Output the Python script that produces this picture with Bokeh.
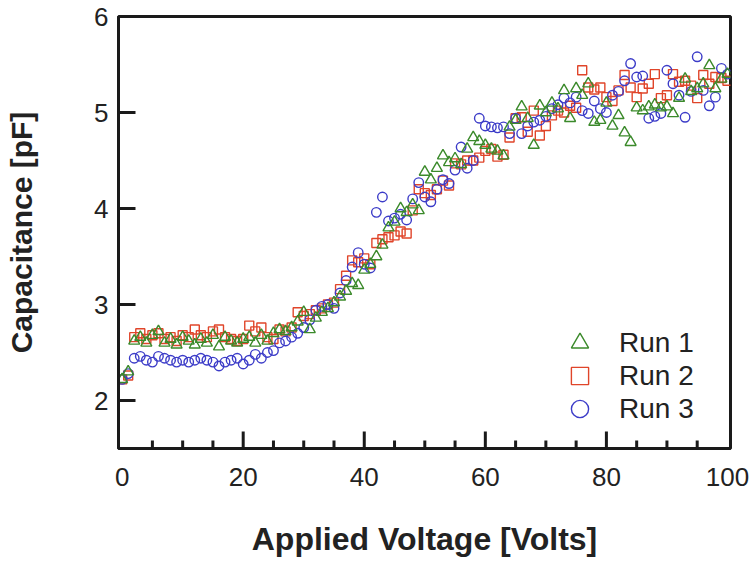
from bokeh.plotting import figure
from bokeh.models import SingleIntervalTicker, Range1d, Legend, LegendItem, ColumnDataSource
from bokeh.embed import file_html
from bokeh.resources import INLINE

voltage = list(range(0, 101))

run1 = [2.22, 2.30, 2.62, 2.66, 2.60, 2.68, 2.72, 2.60, 2.64, 2.58,
        2.66, 2.62, 2.58, 2.64, 2.60, 2.68, 2.56, 2.66, 2.62, 2.60,
        2.64, 2.66, 2.60, 2.68, 2.62, 2.70, 2.74, 2.72, 2.76, 2.82,
        2.92, 2.74, 2.86, 2.92, 2.96, 3.02, 3.08, 3.14, 3.22, 3.20,
        3.36, 3.42, 3.50, 3.62, 3.80, 3.86, 4.00, 3.96, 4.04, 3.98,
        4.38, 4.30, 4.42, 4.55, 4.48, 4.52, 4.46, 4.62, 4.74, 4.70,
        4.66, 4.62, 4.60, 4.55, 4.85, 4.92, 5.06, 4.94, 4.66, 5.07,
        5.00, 5.10, 5.04, 5.23, 4.94, 5.25, 5.18, 5.30, 4.90, 4.92,
        5.10, 4.86, 4.97, 4.79, 4.69, 5.05, 5.02, 5.06, 5.08, 5.05,
        5.06, 4.99, 5.15, 5.35, 5.22, 5.25, 5.30, 5.49, 5.25, 5.35,
        5.40]

run2 = [2.22, 2.26, 2.66, 2.70, 2.64, 2.68, 2.70, 2.64, 2.66, 2.62,
        2.68, 2.66, 2.74, 2.68, 2.66, 2.72, 2.74, 2.66, 2.64, 2.62,
        2.64, 2.78, 2.72, 2.76, 2.66, 2.64, 2.74, 2.72, 2.76, 2.92,
        2.88, 2.90, 2.94, 2.96, 3.00, 3.02, 3.16, 3.30, 3.46, 3.44,
        3.48, 3.42, 3.64, 3.68, 3.70, 3.72, 3.76, 3.74, 3.98, 4.20,
        4.16, 4.14, 4.20, 4.29, 4.24, 4.47, 4.46, 4.50, 4.50, 4.53,
        4.60, 4.62, 4.54, 4.56, 4.74, 4.94, 4.95, 4.80, 5.02, 4.76,
        4.86, 4.97, 5.02, 5.00, 5.07, 5.05, 5.44, 5.26, 5.24, 5.26,
        5.16, 5.12, 5.23, 5.39, 5.26, 5.16, 5.25, 5.30, 5.40, 5.15,
        5.18, 5.40, 5.32, 5.33, 5.28, 5.15, 5.39, 5.30, 5.37, 5.36,
        5.33]

run3 = [2.22, 2.28, 2.44, 2.46, 2.42, 2.40, 2.46, 2.44, 2.42, 2.40,
        2.42, 2.40, 2.42, 2.44, 2.42, 2.40, 2.36, 2.40, 2.42, 2.44,
        2.38, 2.42, 2.48, 2.44, 2.50, 2.52, 2.60, 2.62, 2.66, 2.70,
        2.76, 2.84, 2.94, 2.98, 3.00, 2.96, 3.12, 3.25, 3.39, 3.54,
        3.42, 3.38, 3.96, 4.12, 3.87, 3.90, 3.94, 3.88, 4.10, 4.27,
        4.12, 4.07, 4.20, 4.30, 4.26, 4.40, 4.64, 4.42, 4.50, 4.94,
        4.86, 4.85, 4.84, 4.85, 4.78, 4.94, 4.78, 4.86, 4.90, 4.92,
        4.96, 5.04, 5.08, 5.15, 5.10, 5.16, 5.02, 4.99, 5.12, 5.04,
        5.00, 5.18, 5.22, 5.33, 5.51, 5.37, 5.38, 4.94, 4.96, 4.99,
        5.44, 5.30, 5.18, 4.95, 5.22, 5.58, 5.23, 5.07, 5.16, 5.46,
        5.40]

series_names = ["Run 1", "Run 2", "Run 3"]
x_label = "Applied Voltage [Volts]"
y_label = "Capacitance [pF]"

# positions of the inward tick marks
x_major_ticks = [20, 40, 60, 80]
x_minor_ticks = [5, 10, 15, 25, 30, 35, 45, 50, 55, 65, 70, 75, 85, 90, 95]
y_major_ticks = [2, 3, 4, 5]

GREEN = "#3b8a2b"
RED = "#e0452a"
BLUE = "#3c3cc8"
INK = "#1a1a1a"
FONT = "Liberation Sans"

W, H = 756, 562
BL, BR, BT, BB = 118, 26, 16, 114
x_rng = Range1d(-0.6, 100.5)
y_rng = Range1d(1.5, 6.0)

p = figure(width=W, height=H, output_backend="svg", toolbar_location=None,
           x_range=x_rng, y_range=y_rng,
           min_border_left=BL, min_border_right=BR, min_border_top=BT,
           min_border_bottom=BB)
p.background_fill_color = "white"
p.border_fill_color = "white"
p.grid.visible = False
p.outline_line_color = INK
p.outline_line_width = 3

src = ColumnDataSource(dict(x=voltage, r1=run1, r2=run2, r3=run3))

# inward tick marks as segments; lengths given in pixels, converted to data units
px_x = (x_rng.end - x_rng.start) / (W - BL - BR)
px_y = (y_rng.end - y_rng.start) / (H - BT - BB)
ybase = y_rng.start
xbase = x_rng.start
tick_src_xM = ColumnDataSource(dict(x=x_major_ticks,
                                    y0=[ybase] * len(x_major_ticks),
                                    y1=[ybase + 17 * px_y] * len(x_major_ticks)))
tick_src_xm = ColumnDataSource(dict(x=x_minor_ticks,
                                    y0=[ybase] * len(x_minor_ticks),
                                    y1=[ybase + 8 * px_y] * len(x_minor_ticks)))
tick_src_y = ColumnDataSource(dict(y=y_major_ticks,
                                   x0=[xbase] * len(y_major_ticks),
                                   x1=[xbase + 17 * px_x] * len(y_major_ticks)))
p.segment(x0="x", y0="y0", x1="x", y1="y1", source=tick_src_xM,
          line_color=INK, line_width=3)
p.segment(x0="x", y0="y0", x1="x", y1="y1", source=tick_src_xm,
          line_color=INK, line_width=3)
p.segment(x0="x0", y0="y", x1="x1", y1="y", source=tick_src_y,
          line_color=INK, line_width=3)

r2 = p.scatter("x", "r2", source=src, marker="square", size=9, fill_color=None,
               line_color=RED, line_width=1.4)
r3 = p.scatter("x", "r3", source=src, marker="circle", size=9.5, fill_color=None,
               line_color=BLUE, line_width=1.4)
r1 = p.scatter("x", "r1", source=src, marker="triangle", size=11, fill_color=None,
               line_color=GREEN, line_width=1.4)

# one legend per entry so the rows can sit closer than the glyph box
for name, rend, off in zip(series_names, [r1, r2, r3], [84, 51, 18]):
    lg = Legend(items=[LegendItem(label=name, renderers=[rend])],
                location=(440, off), glyph_width=43, glyph_height=43,
                label_standoff=18, padding=0, margin=0,
                label_text_font=FONT, label_text_font_size="28px",
                label_text_color="#222222", border_line_color=None,
                background_fill_alpha=0)
    p.add_layout(lg)

p.xaxis.ticker = SingleIntervalTicker(interval=20, num_minor_ticks=4)
p.yaxis.ticker = SingleIntervalTicker(interval=1, num_minor_ticks=0)

for ax in (p.xaxis, p.yaxis):
    ax.axis_line_width = 3
    ax.axis_line_color = INK
    ax.major_tick_in = 0
    ax.major_tick_out = 0
    ax.minor_tick_in = 0
    ax.minor_tick_out = 0
    ax.major_tick_line_color = None
    ax.minor_tick_line_color = None
    ax.major_label_text_font = FONT
    ax.major_label_text_font_size = "26px"
    ax.major_label_text_color = "#222222"
    ax.axis_label_text_font = FONT
    ax.axis_label_text_font_style = "bold"
    ax.axis_label_text_color = "#222222"

p.xaxis.axis_label_text_font_size = "32px"
p.yaxis.axis_label_text_font_size = "30px"
p.xaxis.axis_label = x_label
p.yaxis.axis_label = y_label
p.xaxis.major_label_standoff = 19
p.yaxis.major_label_standoff = 10
p.xaxis.axis_label_standoff = 32
p.yaxis.axis_label_standoff = 53

open("out.html", "w").write(file_html(p, INLINE))
